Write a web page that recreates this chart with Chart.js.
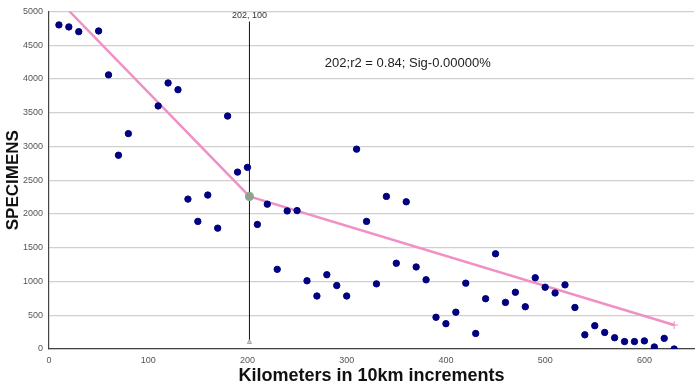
<!DOCTYPE html>
<html>
<head>
<meta charset="utf-8">
<script src="https://cdn.jsdelivr.net/npm/chart.js@4.4.1/dist/chart.umd.min.js"></script>
<style>
  html, body { margin: 0; padding: 0; background: #fff; }
  #wrap { width: 699px; height: 387px; position: relative; }
</style>
</head>
<body>
<div id="wrap"><canvas id="c"></canvas></div>
<script>
// Observed data: kilometers (10 km increments) and specimen counts
const kms = [10,20,30,50,60,70,80,110,120,130,140,150,160,170,180,190,200,210,220,230,240,250,260,270,280,290,300,310,320,330,340,350,360,370,380,390,400,410,420,430,440,450,460,470,480,490,500,510,520,530,540,550,560,570,580,590,600,610,620,630];
const specimens = [4800,4770,4700,4710,4060,2870,3190,3600,3940,3840,2220,1890,2280,1790,3450,2620,2690,1845,2145,1180,2045,2050,1010,785,1100,940,785,2960,1890,965,2260,1270,2180,1215,1025,470,375,545,975,230,745,1410,690,840,626,1055,915,830,950,615,210,345,245,167,110,110,120,30,158,0];

// Segmented regression fit (breakpoint at 202)
const fitX = [20, 202, 630];
const fitY = [5010, 2260, 355];

// Breakpoint marker line
const breakX = [202, 202];
const breakY = [100, 4850];
const breakLabel = "202, 100";
const statsText = "202;r2 = 0.84; Sig-0.00000%";
const statsPos = [278, 4230];

const yTicks = [0,500,1000,1500,2000,2500,3000,3500,4000,4500,5000];
const xTicks = [0,100,200,300,400,500,600];

const pts = kms.map((k, i) => ({x: k, y: specimens[i]}));
const fitPts = fitX.map((k, i) => ({x: k, y: fitY[i]}));
const brkPts = breakX.map((k, i) => ({x: k, y: breakY[i]}));

const textPlugin = {
  id: 'texts',
  afterDatasetsDraw(chart) {
    const {ctx, scales} = chart;
    const x = scales.x, y = scales.y;
    ctx.save();
    ctx.fillStyle = '#222';
    ctx.font = '13px "Liberation Sans", Arial, sans-serif';
    ctx.textAlign = 'left';
    ctx.textBaseline = 'middle';
    ctx.fillText(statsText, x.getPixelForValue(statsPos[0]), y.getPixelForValue(statsPos[1]));
    ctx.font = '9px "Liberation Sans", Arial, sans-serif';
    ctx.fillStyle = '#333';
    ctx.textAlign = 'center';
    ctx.textBaseline = 'bottom';
    ctx.fillText(breakLabel, x.getPixelForValue(breakX[1]), y.getPixelForValue(breakY[1]) - 2);
    ctx.restore();
  }
};

const fontFam = '"Liberation Sans", Arial, sans-serif';

new Chart(document.getElementById('c'), {
  type: 'scatter',
  data: {
    datasets: [
      {
        label: 'Specimens',
        data: pts,
        backgroundColor: '#000080',
        borderColor: '#000080',
        pointRadius: 3.2,
        pointHoverRadius: 3.2,
        order: 0
      },
      {
        label: 'Fit',
        data: fitPts,
        showLine: true,
        borderColor: '#f090c4',
        borderWidth: 2.5,
        pointRadius: [0, 4, 4],
        pointStyle: ['circle', 'circle', 'cross'],
        pointBackgroundColor: ['#999', '#9a9a9a', '#f090c4'],
        pointBorderColor: ['#999', '#7fb77f', '#f090c4'],
        pointBorderWidth: [1, 1.2, 1],
        order: 1
      },
      {
        label: 'Break',
        data: brkPts,
        showLine: true,
        borderColor: '#111',
        borderWidth: 1,
        pointRadius: [2.5, 0],
        pointStyle: 'triangle',
        pointBackgroundColor: '#ccc',
        pointBorderColor: '#aaa',
        order: 2
      }
    ]
  },
  options: {
    responsive: true,
    maintainAspectRatio: false,
    animation: false,
    events: [],
    layout: { padding: { top: 10, right: 0, left: 0, bottom: 0 } },
    plugins: { legend: { display: false }, tooltip: { enabled: false } },
    scales: {
      x: {
        type: 'linear',
        min: 0, max: 650,
        afterBuildTicks: (s) => { s.ticks = xTicks.map(v => ({value: v})); },
        afterFit: (s) => { s.height = 38; },
        grid: { display: false, drawTicks: false },
        border: { color: '#444', width: 1.2 },
        ticks: { color: '#555', padding: 6, callback: (v) => String(v), font: { size: 9, family: fontFam } },
        title: {
          display: true,
          text: 'Kilometers in 10km increments',
          color: '#111',
          padding: { top: 0, bottom: 0 },
          font: { size: 18, weight: 'bold', family: fontFam }
        }
      },
      y: {
        type: 'linear',
        min: 0, max: 5000,
        afterBuildTicks: (s) => { s.ticks = yTicks.map(v => ({value: v})); },
        afterFit: (s) => { s.width = 49; },
        grid: { color: '#d0d0d0', lineWidth: 1.2, drawTicks: false },
        border: { color: '#444', width: 1.2 },
        ticks: { color: '#555', padding: 6, callback: (v) => String(v), font: { size: 9, family: fontFam } },
        title: {
          display: true,
          text: 'SPECIMENS',
          color: '#111',
          padding: { top: 3, bottom: 0 },
          font: { size: 17, weight: 'bold', family: fontFam }
        }
      }
    }
  },
  plugins: [textPlugin]
});
</script>
</body>
</html>
